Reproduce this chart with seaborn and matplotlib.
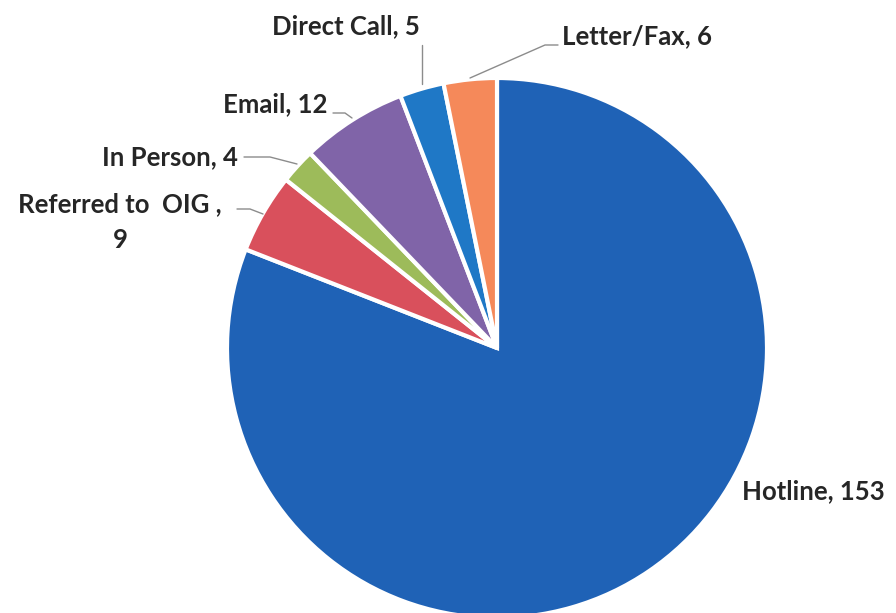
import matplotlib
matplotlib.use("Agg")
import matplotlib.pyplot as plt
import seaborn as sns

sns.set_theme(style="white")
plt.rcParams['font.family'] = ['Lato', 'DejaVu Sans']

# Complaint sources (clockwise from the top)
categories = ["Hotline", "Referred to  OIG ", "In Person", "Email", "Direct Call", "Letter/Fax"]
counts = [153, 9, 4, 12, 5, 6]
colors = ["#1f62b6", "#d9505c", "#9dbb5a", "#8064a8", "#1f78c6", "#f5895a"]

W, H = 896, 613
fig = plt.figure(figsize=(W / 100, H / 100), dpi=100)
ax = fig.add_axes([0, 0, 1, 1])

cx, cy, r = 497, H - 348, 270
ax.pie(counts, colors=colors, startangle=90, counterclock=False,
       radius=r, center=(cx, cy), frame=False,
       wedgeprops=dict(edgecolor="white", linewidth=3))
ax.set_xlim(0, W)
ax.set_ylim(0, H)
ax.set_aspect("equal")
ax.axis("off")

txt = dict(fontsize=18.5, fontweight="bold", color="#262626")
line = dict(color="#8c8c8c", lw=1)

def lbl(i):
    name = categories[i]
    if i == 1:
        return f"{name},\n{counts[i]}"
    return f"{name}, {counts[i]}"

# Hotline
ax.text(742, H - 491, lbl(0), ha="left", va="center", **txt)
# Referred to OIG
ax.text(120, H - 222, lbl(1), ha="center", va="center", linespacing=1.55, **txt)
ax.plot([237, 250, 263], [H - 209, H - 209, H - 214], **line)
# In Person
ax.text(238, H - 157, lbl(2), ha="right", va="center", **txt)
ax.plot([244, 270, 297], [H - 157, H - 157, H - 164], **line)
# Email
ax.text(327, H - 104, lbl(3), ha="right", va="center", **txt)
ax.plot([333, 345, 352], [H - 113, H - 113, H - 118], **line)
# Direct Call
ax.text(346, H - 26, lbl(4), ha="center", va="center", **txt)
ax.plot([422, 422], [H - 45, H - 84], **line)
# Letter/Fax
ax.text(562, H - 36, lbl(5), ha="left", va="center", **txt)
ax.plot([470, 545, 558], [H - 78, H - 45, H - 45], **line)

fig.savefig("out.png", dpi=100, facecolor="white")
